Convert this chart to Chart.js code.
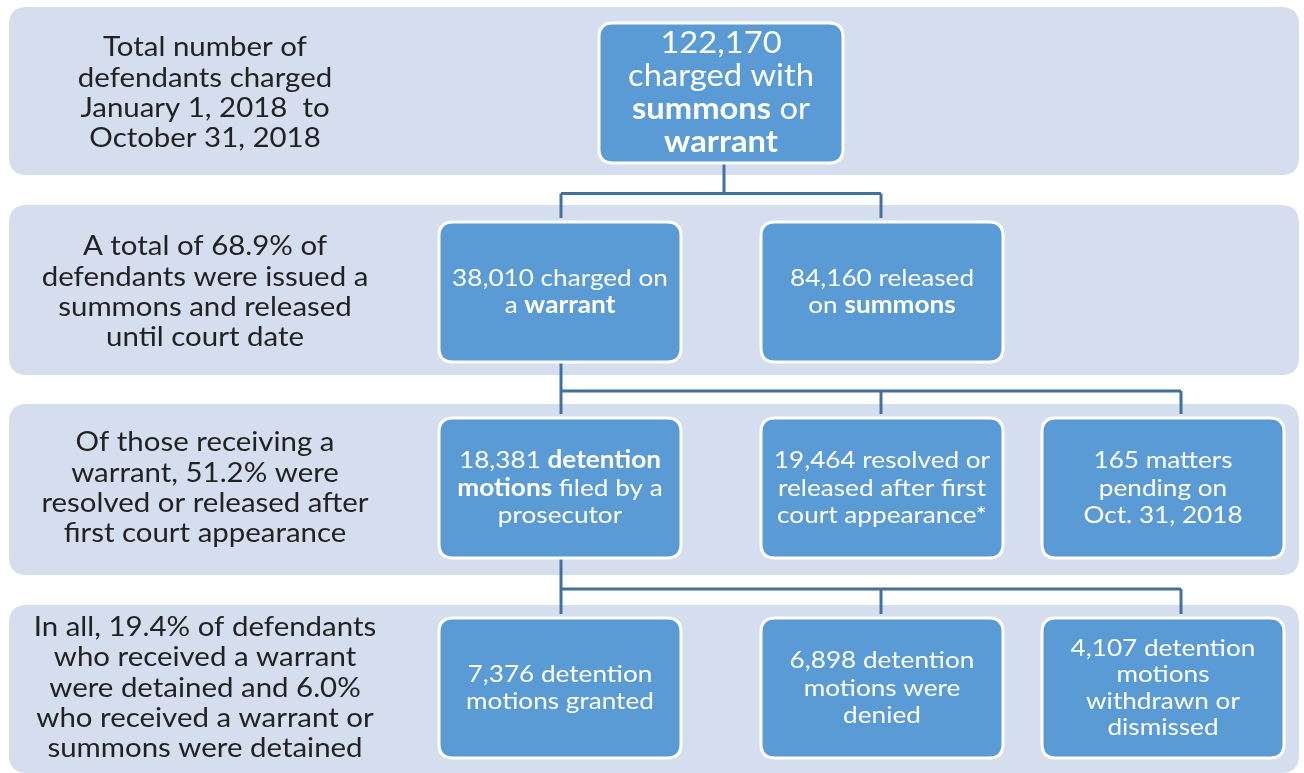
<!DOCTYPE html>
<html>
<head>
<meta charset="utf-8">
<title>Defendants charged, Jan 1 - Oct 31, 2018</title>
<script src="https://cdn.jsdelivr.net/npm/chart.js@4.4.1/dist/chart.umd.min.js"></script>
<style>
    html, body { margin: 0; padding: 0; background: #ffffff; }
    #flowWrap { width: 1304px; height: 773px; }
</style>
</head>
<body>
<div id="flowWrap"><canvas id="flowChart" width="1304" height="773"></canvas></div>
<script>
// Row captions on the left (one array of lines per row)
const rowLabels = [
    ['Total number of', 'defendants charged', 'January 1, 2018  to', 'October 31, 2018'],
    ['A total of 68.9% of', 'defendants were issued a', 'summons and released', 'until court date'],
    ['Of those receiving a', 'warrant, 51.2% were', 'resolved or released after', 'first court appearance'],
    ['In all, 19.4% of defendants', 'who received a warrant', 'were detained and 6.0%', 'who received a warrant or', 'summons were detained']
];

// Box texts, **word** = bold
const nodeLabels = [
    ['122,170', 'charged with', '**summons** or', '**warrant**'],
    ['38,010 charged on', 'a **warrant**'],
    ['84,160 released', 'on **summons**'],
    ['18,381 **detention**', '**motions** filed by a', 'prosecutor'],
    ['19,464 resolved or', 'released after first', 'court appearance*'],
    ['165 matters', 'pending on', 'Oct. 31, 2018'],
    ['7,376 detention', 'motions granted'],
    ['6,898 detention', 'motions were', 'denied'],
    ['4,107 detention', 'motions', 'withdrawn or', 'dismissed']
];

// Which row / column each box sits in, and its parent box (-1 = none)
const nodeRow = [0, 1, 1, 2, 2, 2, 3, 3, 3];
const nodeCol = [1.5, 1, 2, 1, 2, 3, 1, 2, 3];
const nodeParent = [-1, 0, 0, 1, 1, 1, 3, 3, 3];

// Layout (pixel units of the hidden linear scales)
const layout = {
    colCenters: [205, 560, 882, 1163],
    dropX: [205, 561, 881, 1181],
    rowCenters: [93, 292, 488, 688],
    bands: [[7, 175], [205, 375], [404, 575], [605, 773]],
    bandLeft: 9,
    bandRight: 1299,
    boxW: 242,
    boxH: 140,
    topBoxW: 244
};

const colors = {
    band: '#d5deee',
    box: '#5b9bd5',
    boxBorder: '#ffffff',
    connector: '#41719c',
    caption: '#222222',
    boxText: '#ffffff'
};

const fontFamily = 'Lato, "Open Sans", sans-serif';
const textStretch = 1.09;

function colToX(c) {
    const lo = Math.floor(c), hi = Math.ceil(c);
    if (lo === hi) return layout.colCenters[lo];
    const t = c - lo;
    return layout.colCenters[lo] * (1 - t) + layout.colCenters[hi] * t;
}

// Split "**bold** text" into segments
function parseLine(line) {
    const parts = line.split('**');
    return parts.map((p, i) => ({ text: p, bold: i % 2 === 1 })).filter(s => s.text.length);
}

function drawRichLine(ctx, line, cx, y, size) {
    const segs = parseLine(line);
    let total = 0;
    segs.forEach(s => {
        ctx.font = (s.bold ? 'bold ' : '') + size + 'px ' + fontFamily;
        s.w = ctx.measureText(s.text).width;
        total += s.w;
    });
    ctx.save();
    ctx.translate(cx, y);
    ctx.scale(textStretch, 1);
    let x = -total / 2;
    segs.forEach(s => {
        ctx.font = (s.bold ? 'bold ' : '') + size + 'px ' + fontFamily;
        ctx.fillText(s.text, x, 0);
        x += s.w;
    });
    ctx.restore();
}

function roundRect(ctx, x, y, w, h, r) {
    ctx.beginPath();
    ctx.moveTo(x + r, y);
    ctx.lineTo(x + w - r, y);
    ctx.quadraticCurveTo(x + w, y, x + w, y + r);
    ctx.lineTo(x + w, y + h - r);
    ctx.quadraticCurveTo(x + w, y + h, x + w - r, y + h);
    ctx.lineTo(x + r, y + h);
    ctx.quadraticCurveTo(x, y + h, x, y + h - r);
    ctx.lineTo(x, y + r);
    ctx.quadraticCurveTo(x, y, x + r, y);
    ctx.closePath();
}

// Plugin that draws bands, connectors, boxes and texts
const flowPlugin = {
    id: 'flowPlugin',
    beforeDatasetsDraw(chart) {
        const ctx = chart.ctx;
        const xs = chart.scales.x, ys = chart.scales.y;
        const pts = chart.getDatasetMeta(0).data;

        ctx.save();

        // background bands
        layout.bands.forEach(b => {
            const x0 = xs.getPixelForValue(layout.bandLeft);
            const x1 = xs.getPixelForValue(layout.bandRight);
            const y0 = ys.getPixelForValue(b[0]);
            const y1 = ys.getPixelForValue(b[1]);
            ctx.fillStyle = colors.band;
            roundRect(ctx, x0, y0, x1 - x0, y1 - y0, 18);
            ctx.fill();
        });

        // row captions
        ctx.fillStyle = colors.caption;
        ctx.textBaseline = 'middle';
        rowLabels.forEach((lines, r) => {
            const cx = xs.getPixelForValue(layout.colCenters[0]);
            const cy = ys.getPixelForValue(layout.rowCenters[r]);
            const lh = 30.3;
            lines.forEach((ln, i) => {
                const y = cy + (i - (lines.length - 1) / 2) * lh;
                drawRichLine(ctx, ln, cx, y, 27);
            });
        });

        // connectors: parent bottom -> elbow line -> child top
        ctx.strokeStyle = colors.connector;
        ctx.lineWidth = 3;
        ctx.lineJoin = 'round';
        const parents = [...new Set(nodeParent.filter(p => p >= 0))];
        parents.forEach(p => {
            const kids = nodeParent.map((v, i) => v === p ? i : -1).filter(i => i >= 0);
            const pb = pts[p].y + layout.boxH / 2;
            const childTop = pts[kids[0]].y - layout.boxH / 2;
            const midY = (pb + childTop) / 2 + 1;
            const px = nodeCol[p] % 1 === 0 ? layout.dropX[nodeCol[p]] : pts[p].x + 3;
            ctx.beginPath();
            ctx.moveTo(px, pb);
            ctx.lineTo(px, midY);
            ctx.stroke();
            const kx = kids.map(k => layout.dropX[nodeCol[k]]);
            ctx.beginPath();
            ctx.moveTo(Math.min(...kx), midY);
            ctx.lineTo(Math.max(...kx), midY);
            ctx.stroke();
            kx.forEach(x => {
                ctx.beginPath();
                ctx.moveTo(x, midY);
                ctx.lineTo(x, childTop - 4);
                ctx.stroke();
            });
        });

        // boxes and their texts
        pts.forEach((pt, i) => {
            const w = i === 0 ? layout.topBoxW : layout.boxW;
            const h = layout.boxH;
            const x0 = pt.x - w / 2, y0 = pt.y - h / 2;
            roundRect(ctx, x0, y0, w, h, 14);
            ctx.fillStyle = colors.box;
            ctx.fill();
            ctx.lineWidth = 3;
            ctx.strokeStyle = colors.boxBorder;
            ctx.stroke();

            const lines = nodeLabels[i];
            const size = i === 0 ? 30 : 24;
            const lh = i === 0 ? 33 : (lines.length > 3 ? 26.5 : 27.5);
            ctx.fillStyle = colors.boxText;
            lines.forEach((ln, k) => {
                const y = pt.y + (k - (lines.length - 1) / 2) * lh;
                drawRichLine(ctx, ln, pt.x, y, size);
            });
        });

        ctx.restore();
    }
};

const ctx = document.getElementById('flowChart');

new Chart(ctx, {
    type: 'scatter',
    data: {
        datasets: [{
            data: nodeRow.map((r, i) => ({ x: colToX(nodeCol[i]), y: layout.rowCenters[r] })),
            pointRadius: 0,
            pointHoverRadius: 0
        }]
    },
    options: {
        responsive: false,
        animation: false,
        layout: { padding: 0 },
        scales: {
            x: { type: 'linear', min: 0, max: 1304, display: false },
            y: { type: 'linear', min: 0, max: 773, reverse: true, display: false }
        },
        plugins: {
            legend: { display: false },
            tooltip: { enabled: false }
        }
    },
    plugins: [flowPlugin]
});
</script>
</body>
</html>
